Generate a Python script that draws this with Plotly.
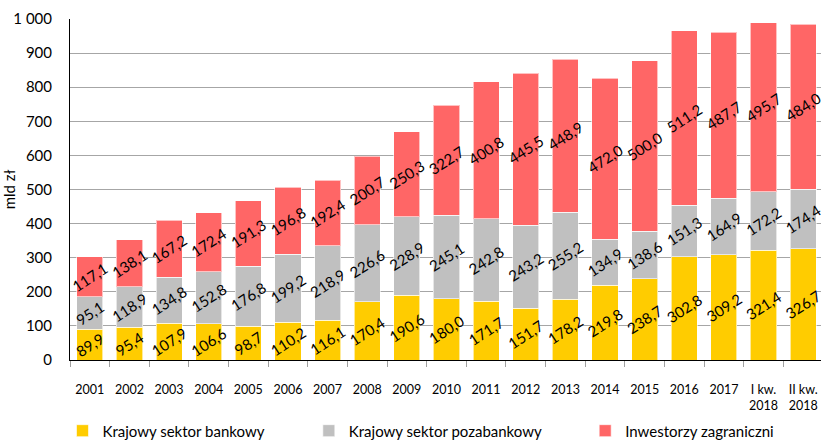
import plotly.graph_objects as go

categories = ["2001", "2002", "2003", "2004", "2005", "2006", "2007", "2008", "2009",
              "2010", "2011", "2012", "2013", "2014", "2015", "2016", "2017",
              "I kw.<br>2018", "II kw.<br>2018"]
bank = [89.9, 95.4, 107.9, 106.6, 98.7, 110.2, 116.1, 170.4, 190.6, 180.0,
        171.7, 151.7, 178.2, 219.8, 238.7, 302.8, 309.2, 321.4, 326.7]
nonbank = [95.1, 118.9, 134.8, 152.8, 176.8, 199.2, 218.9, 226.6, 228.9, 245.1,
           242.8, 243.2, 255.2, 134.9, 138.6, 151.3, 164.9, 172.2, 174.4]
foreign = [117.1, 138.1, 167.2, 172.4, 191.3, 196.8, 192.4, 200.7, 250.3, 322.7,
           400.8, 445.5, 448.9, 472.0, 500.0, 511.2, 487.7, 495.7, 484.0]

series = [
    ("Krajowy sektor bankowy", bank, "#FFCC00", "legend", -0.01),
    ("Krajowy sektor pozabankowy", nonbank, "#C0C0C0", "legend2", 0.318),
    ("Inwestorzy zagraniczni", foreign, "#FF6666", "legend3", 0.686),
]

FONT = "Lato, Open Sans, sans-serif"

fig = go.Figure()
legends = {}
for name, vals, color, leg, lx in series:
    fig.add_trace(go.Bar(
        x=categories, y=vals, name=name, legend=leg,
        marker=dict(color=color, line=dict(color="rgba(255,255,255,0.6)", width=1)),
        text=[f"{v:.1f}".replace(".", ",") for v in vals],
        textposition="inside",
        insidetextanchor="middle",
        constraintext="none",
        textangle=-33,
        textfont=dict(color="black", size=15, family=FONT),
    ))
    legends[leg] = dict(orientation="h", x=lx, y=-0.208, yanchor="middle", xanchor="left",
                        font=dict(size=15, family=FONT), bgcolor="rgba(0,0,0,0)")

fig.update_layout(
    barmode="stack",
    bargap=0.34,
    width=821, height=448,
    margin=dict(l=70, r=0, t=19, b=83),
    plot_bgcolor="white",
    paper_bgcolor="white",
    uniformtext=dict(mode=False),
    font=dict(family=FONT, color="black"),
    showlegend=True,
    **legends,
)
fig.update_xaxes(
    range=[-0.5, 18.45],
    showline=True, linecolor="black", linewidth=1,
    ticks="outside", tickson="boundaries", ticklen=6, tickcolor="#A0A0A0",
    tickfont=dict(size=12.5, family=FONT),
    ticklabelstandoff=18,
    automargin=False,
)
fig.update_yaxes(
    range=[0, 1000],
    tickvals=list(range(0, 1001, 100)),
    ticktext=[f"{v:,}".replace(",", " ") for v in range(0, 1001, 100)],
    showline=True, linecolor="black", linewidth=1,
    showgrid=True, gridcolor="#A6A6A6", gridwidth=1,
    tickfont=dict(size=15, family=FONT),
    ticklabelstandoff=14,
    title=dict(text="mld zł", font=dict(size=15, family=FONT), standoff=4),
    zeroline=False,
    automargin=False,
)

# drop the default page margin and any overflow so the 821x448 figure fills the window exactly
fig.write_html(
    "out.html",
    config={"displayModeBar": False},
    post_script=(
        "document.body.style.margin='0';"
        "document.body.style.overflow='hidden';"
        "document.documentElement.style.overflow='hidden';"
    ),
)
